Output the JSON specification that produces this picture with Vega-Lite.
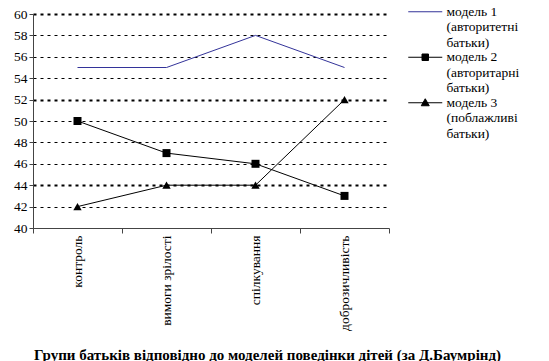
{
  "$schema": "https://vega.github.io/schema/vega-lite/v6.json",
  "width": 356,
  "height": 214,
  "autosize": "none",
  "padding": {"left": 33, "top": 14, "right": 160, "bottom": 133},
  "background": "white",
  "config": {"font": "Liberation Serif", "view": {"stroke": null}},
  "data": {
    "values": [
      {"group": "контроль", "series": "модель 1", "value": 55},
      {"group": "вимоги зрілості", "series": "модель 1", "value": 55},
      {"group": "спілкування", "series": "модель 1", "value": 58},
      {"group": "доброзичливість", "series": "модель 1", "value": 55},
      {"group": "контроль", "series": "модель 2", "value": 50},
      {"group": "вимоги зрілості", "series": "модель 2", "value": 47},
      {"group": "спілкування", "series": "модель 2", "value": 46},
      {"group": "доброзичливість", "series": "модель 2", "value": 43},
      {"group": "контроль", "series": "модель 3", "value": 42},
      {"group": "вимоги зрілості", "series": "модель 3", "value": 44},
      {"group": "спілкування", "series": "модель 3", "value": 44},
      {"group": "доброзичливість", "series": "модель 3", "value": 52}
    ]
  },
  "encoding": {
    "x": {
      "field": "group",
      "type": "nominal",
      "bandPosition": 0.5,
      "sort": ["контроль", "вимоги зрілості", "спілкування", "доброзичливість"],
      "scale": {"type": "band", "paddingInner": 0, "paddingOuter": 0},
      "axis": {
        "title": "Групи батьків відповідно до моделей поведінки дітей (за Д.Баумрінд)",
        "titleFontSize": 15,
        "titleFontWeight": "bold",
        "titleColor": "black",
        "titleX": 234,
        "titleY": 126,
        "titleAlign": "center",
        "titleBaseline": "middle",
        "labelAngle": 270,
        "labelAlign": "right",
        "labelBaseline": "middle",
        "labelFontSize": 13.5,
        "labelColor": "black",
        "labelPadding": 2,
        "tickBand": "extent",
        "tickSize": 5,
        "tickColor": "#444",
        "domainColor": "#444",
        "grid": false
      }
    },
    "y": {
      "field": "value",
      "type": "quantitative",
      "scale": {"domain": [40, 60], "nice": false, "zero": false},
      "axis": {
        "title": null,
        "values": [40, 42, 44, 46, 48, 50, 52, 54, 56, 58, 60],
        "labelFontSize": 13.5,
        "labelColor": "black",
        "labelPadding": 2,
        "tickSize": 4,
        "tickColor": "#444",
        "domainColor": "#444",
        "grid": true,
        "gridColor": "black",
        "gridDash": [3, 4],
        "gridWidth": {"condition": {"test": "datum.value == 60 || datum.value == 52 || datum.value == 44", "value": 1.8}, "value": 1},
        "gridOpacity": 1
      }
    }
  },
  "layer": [
    {
      "mark": {"type": "line", "strokeWidth": 1},
      "encoding": {
        "stroke": {
          "field": "series",
          "type": "nominal",
          "scale": {"domain": ["модель 1", "модель 2", "модель 3"], "range": ["#333399", "black", "black"]}
        }
      }
    },
    {
      "transform": [{"filter": "datum.series == 'модель 2'"}],
      "mark": {"type": "point", "shape": "square", "filled": true, "color": "black", "size": 64, "opacity": 1}
    },
    {
      "transform": [{"filter": "datum.series == 'модель 3'"}],
      "mark": {"type": "point", "shape": "triangle-up", "filled": true, "color": "black", "size": 70, "opacity": 1}
    },
    {
      "transform": [{"filter": "datum.value > 1000"}],
      "mark": {"type": "point", "filled": true, "opacity": 1},
      "encoding": {
        "shape": {
          "field": "series",
          "type": "nominal",
          "scale": {
            "domain": ["модель 1", "модель 2", "модель 3"],
            "range": [
              "M-3.4,0H3.4",
              "M-3.4,0H3.4M-0.65,-0.65H0.65V0.65H-0.65Z",
              "M-3.4,0H3.4M-0.8,0.6L0,-0.8L0.8,0.6Z"
            ]
          },
          "legend": {
            "orient": "none",
            "legendX": 385.5,
            "legendY": -9,
            "title": null,
            "symbolSize": 100,
            "symbolStrokeWidth": 1,
            "symbolOpacity": 1,
            "labelFontSize": 13.5,
            "labelColor": "black",
            "labelLineHeight": 16.7,
            "labelBaseline": "middle",
            "labelOffset": 14.5,
            "rowPadding": -0.5,
            "labelExpr": "datum.label == 'модель 1' ? ['модель 1', '(авторитетні', 'батьки)'] : datum.label == 'модель 2' ? ['модель 2', '(авторитарні', 'батьки)'] : ['модель 3', '(поблажливі', 'батьки)']"
          }
        },
        "stroke": {
          "field": "series",
          "type": "nominal",
          "scale": {"domain": ["модель 1", "модель 2", "модель 3"], "range": ["#333399", "black", "black"]}
        },
        "fill": {
          "field": "series",
          "type": "nominal",
          "scale": {"domain": ["модель 1", "модель 2", "модель 3"], "range": ["#333399", "black", "black"]}
        }
      }
    }
  ]
}
